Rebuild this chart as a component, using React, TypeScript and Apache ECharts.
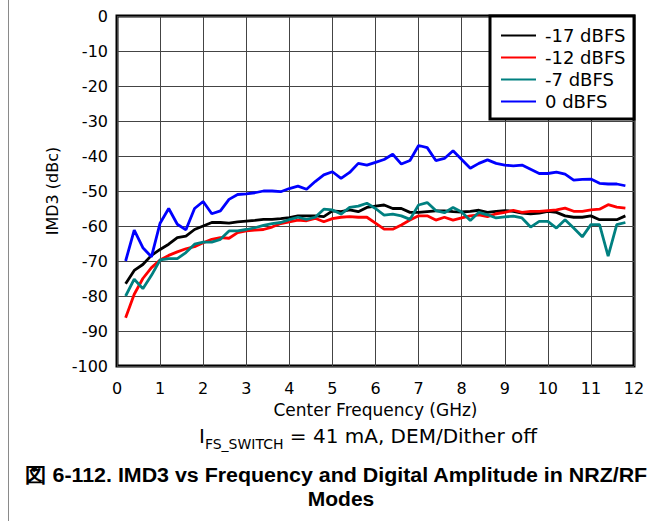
import React, { useEffect, useRef } from "react";
import * as echarts from "echarts";

const freqGHz = [
  0.2, 0.4, 0.6, 0.8, 1.0, 1.2, 1.4, 1.6, 1.8, 2.0,
  2.2, 2.4, 2.6, 2.8, 3.0, 3.2, 3.4, 3.6, 3.8, 4.0,
  4.2, 4.4, 4.6, 4.8, 5.0, 5.2, 5.4, 5.6, 5.8, 6.0,
  6.2, 6.4, 6.6, 6.8, 7.0, 7.2, 7.4, 7.6, 7.8, 8.0,
  8.2, 8.4, 8.6, 8.8, 9.0, 9.2, 9.4, 9.6, 9.8, 10.0,
  10.2, 10.4, 10.6, 10.8, 11.0, 11.2, 11.4, 11.6, 11.8,
];

const imd3Minus17 = [
  -76.5, -72.7, -71, -68.4, -66.7, -65.2, -63.3, -62.9, -61, -60,
  -59, -59, -59.2, -58.8, -58.6, -58.4, -58.1, -58.1, -57.9, -57.6,
  -57.1, -57.1, -57.1, -57.3, -55.7, -55.9, -55.4, -55.9, -54.7, -54.3,
  -54, -55, -55, -56.1, -56.1, -55.9, -55.7, -55.7, -55.9, -56,
  -55.8, -55.5, -56.1, -55.8, -55.6, -55.8, -56.3, -56.5, -56.3, -55.8,
  -56.1, -57.1, -57.5, -57.5, -57.1, -58.2, -58.2, -58.2, -57.1,
];

const imd3Minus12 = [
  -86.2, -79.5, -75, -71.9, -69.7, -68.4, -67.4, -66.5, -65.9, -64.8,
  -63.8, -63.3, -63.5, -61.9, -61.4, -61.2, -61, -60.3, -59.3, -58.8,
  -58.3, -58.5, -57.8, -58.8, -57.9, -57.5, -57.3, -57.5, -57.5, -59.2,
  -60.9, -60.9, -59.7, -58.3, -57.1, -57.1, -58.3, -57.5, -58.3, -57.7,
  -57.1, -56.8, -57.3, -56.5, -56.1, -55.5, -56.1, -55.8, -55.8, -55.6,
  -55.4, -54.9, -55.8, -55.8, -55.4, -55.2, -53.9, -54.6, -54.9,
];

const imd3Minus7 = [
  -80, -75.2, -77.9, -74.1, -69.7, -69.3, -69.3, -67.6, -65.2, -64.6,
  -64.6, -63.8, -61.4, -61.4, -61, -60.5, -59.8, -59.3, -59, -58.2,
  -57.5, -58.1, -57.5, -55.2, -55.4, -56.6, -54.7, -54.3, -53.5, -55,
  -56.9, -56.6, -57.1, -58.1, -54, -53.3, -55.6, -56.2, -54.7, -56,
  -58.4, -56.1, -56.8, -57.7, -57.4, -57.2, -57.7, -60.3, -58.7, -58.7,
  -60.6, -58.2, -60.6, -63.1, -59.6, -59.6, -68.6, -59.6, -59,
];

const imd3Zero = [
  -70, -61.2, -66.2, -68.8, -59.2, -55, -59.5, -61.1, -55, -53,
  -56.5, -55.7, -52.4, -51, -50.8, -50.5, -50, -50, -50.2, -49.3,
  -48.6, -49.5, -47.3, -45.4, -44.5, -46.4, -44.7, -42.1, -42.6, -41.8,
  -41, -39.5, -42.3, -41.3, -37, -37.6, -41.3, -40.7, -38.5, -41,
  -43.5, -42.1, -41.1, -42.1, -42.6, -42.8, -42.6, -43.8, -45, -45,
  -44.6, -45.2, -46.9, -46.7, -46.6, -47.8, -48, -48, -48.5,
];

const seriesNames = ["-17 dBFS", "-12 dBFS", "-7 dBFS", "0 dBFS"];
const seriesColors = ["#000000", "#ff0000", "#008080", "#0000ff"];
const seriesValues = [imd3Minus17, imd3Minus12, imd3Minus7, imd3Zero];

const xAxisTitle = "Center Frequency (GHz)";
const yAxisTitle = "IMD3 (dBc)";
const captionLine1 = "図 6-112. IMD3 vs Frequency and Digital Amplitude in NRZ/RF";
const captionLine2 = "Modes";

const FONT = "DejaVu Sans";
const BOLD_FONT = "Liberation Sans, Arial, sans-serif";

export default function App() {
  const ref = useRef<HTMLDivElement>(null);
  useEffect(() => {
    if (!ref.current) return;
    const chart = echarts.init(ref.current, undefined, { renderer: "svg" });
    const series = seriesNames.map((name, i) => ({
      name,
      type: "line",
      data: freqGHz.map((f, j) => [f, seriesValues[i][j]]),
      symbol: "none",
      showSymbol: false,
      lineStyle: { color: seriesColors[i], width: 2.8 },
      itemStyle: { color: seriesColors[i] },
      z: 2,
    }));
    chart.setOption({
      animation: false,
      backgroundColor: "#ffffff",
      grid: {
        left: 117,
        top: 16,
        width: 517,
        height: 350,
        show: true,
        borderColor: "#000",
        borderWidth: 3,
        backgroundColor: "transparent",
      },
      xAxis: {
        type: "value",
        min: 0,
        max: 12,
        interval: 1,
        name: xAxisTitle,
        nameLocation: "middle",
        nameGap: 35,
        nameTextStyle: { fontFamily: FONT, fontSize: 17, color: "#000" },
        axisLine: { show: false },
        axisTick: { show: false },
        axisLabel: { fontFamily: FONT, fontSize: 16, color: "#000", margin: 14 },
        splitLine: { show: true, lineStyle: { color: "#444", width: 1 } },
      },
      yAxis: {
        type: "value",
        min: -100,
        max: 0,
        interval: 10,
        name: yAxisTitle,
        nameLocation: "middle",
        nameGap: 34,
        nameTextStyle: { fontFamily: FONT, fontSize: 16, color: "#000" },
        axisLine: { show: false },
        axisTick: { show: false },
        axisLabel: { fontFamily: FONT, fontSize: 16, color: "#000", margin: 9 },
        splitLine: { show: true, lineStyle: { color: "#444", width: 1 } },
      },
      legend: {
        orient: "vertical",
        left: 500,
        top: 26.5,
        padding: 0,
        itemWidth: 35,
        itemHeight: 15,
        itemGap: 4,
        z: 10,
        itemStyle: { opacity: 0 },
        textStyle: {
          fontFamily: FONT,
          fontSize: 18,
          color: "#000",
          lineHeight: 15,
          padding: [0, 0, 0, 4],
        },
        data: seriesNames,
      },
      graphic: [
        {
          type: "rect",
          z: 9,
          shape: { x: 490, y: 16, width: 144, height: 103 },
          style: { fill: "#fff", stroke: "#000", lineWidth: 3 },
        },
        {
          type: "line",
          z: 9,
          shape: { x1: 8.5, y1: 0, x2: 8.5, y2: 521 },
          style: { stroke: "#8a8a8a", lineWidth: 1 },
        },
        {
          type: "text",
          x: 368,
          y: 436,
          style: {
            text: "{a|I}{b|FS_SWITCH}{a| = 41 mA, DEM/Dither off}",
            align: "center",
            verticalAlign: "middle",
            rich: {
              a: { fontFamily: FONT, fontSize: 20, lineHeight: 24, fill: "#000" },
              b: { fontFamily: FONT, fontSize: 14, lineHeight: 30, verticalAlign: "bottom", fill: "#000" },
            },
          },
        },
        {
          type: "text",
          x: 336,
          y: 475,
          scaleX: 1.07,
          style: {
            text: captionLine1,
            align: "center",
            verticalAlign: "middle",
            fontFamily: BOLD_FONT,
            fontWeight: "bold",
            fontSize: 20,
            fill: "#000",
          },
        },
        {
          type: "text",
          x: 341,
          y: 499,
          scaleX: 1.05,
          style: {
            text: captionLine2,
            align: "center",
            verticalAlign: "middle",
            fontFamily: BOLD_FONT,
            fontWeight: "bold",
            fontSize: 20,
            fill: "#000",
          },
        },
      ],
      series,
    });
    return () => chart.dispose();
  }, []);
  return (
    <div
      ref={ref}
      style={{ position: "fixed", left: 0, top: 0, width: 667, height: 521, background: "#fff" }}
    />
  );
}
